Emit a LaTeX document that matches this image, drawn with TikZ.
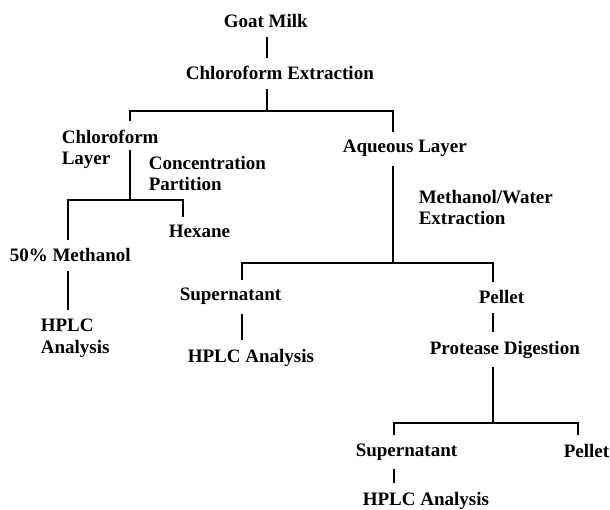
\documentclass[tikz,border=0pt]{standalone}
\usepackage{fontspec}
\setmainfont{Liberation Serif}

\begin{document}
\begin{tikzpicture}[x=1pt, y=-1pt, line width=1.6pt,
  every node/.style={font=\bfseries\fontsize{19}{21.5}\selectfont, inner xsep=0pt, inner ysep=8pt, anchor=base west, align=left}]
\useasboundingbox (0,0) rectangle (610,510);
\node (goat) at (223,28) {Goat Milk};
\node (chlext) at (185,80) {Chloroform Extraction};
\node (chllay) at (61,165) {Chloroform\\Layer};
\node (conc) at (148,191) {Concentration\\Partition};
\node (aqlay) at (342,153) {Aqueous Layer};
\node (meoh) at (418,225) {Methanol/Water\\Extraction};
\node (hex) at (168,238) {Hexane};
\node (meth) at (9,262) {50\% Methanol};
\node (hplca) at (40,353) {HPLC\\Analysis};
\node (supa) at (179,301) {Supernatant};
\node (pela) at (478,304) {Pellet};
\node (hplcb) at (187,362) {HPLC Analysis};
\node (prot) at (429,354) {Protease Digestion};
\node (supb) at (355,456) {Supernatant};
\node (pelb) at (563,457) {Pellet};
\node (hplcc) at (362,505) {HPLC Analysis};
\coordinate (k1) at (267,111); \coordinate (k1l) at (130,111); \coordinate (k1r) at (393,111);
\coordinate (k2t) at (130,150); \coordinate (k2) at (130,200); \coordinate (k2l) at (68,200); \coordinate (k2r) at (183,200);
\coordinate (k3) at (393,263); \coordinate (k3l) at (242,263); \coordinate (k3r) at (493,263);
\coordinate (k4) at (493,423); \coordinate (k4l) at (394,423); \coordinate (k4r) at (578,423);
\draw (goat.south -| k1) -- (chlext.north -| k1);
\draw (chlext.south -| k1) -- (k1);
\draw (chllay.north -| k1l) -- (k1l) -- (k1r) -- (aqlay.north -| k1r);
\draw (k2t) -- (k2);
\draw (meth.north -| k2l) -- (k2l) -- (k2r) -- (hex.north -| k2r);
\draw (meth.south -| k2l) -- (hplca.north -| k2l);
\draw (aqlay.south -| k3) -- (k3);
\draw (supa.north -| k3l) -- (k3l) -- (k3r) -- (pela.north -| k3r);
\draw (supa.south -| k3l) -- (hplcb.north -| k3l);
\draw (pela.south -| k3r) -- (prot.north -| k3r);
\draw (prot.south -| k4) -- (k4);
\draw (supb.north -| k4l) -- (k4l) -- (k4r) -- (pelb.north -| k4r);
\draw (supb.south -| k4l) -- (hplcc.north -| k4l);
\end{tikzpicture}
\end{document}
